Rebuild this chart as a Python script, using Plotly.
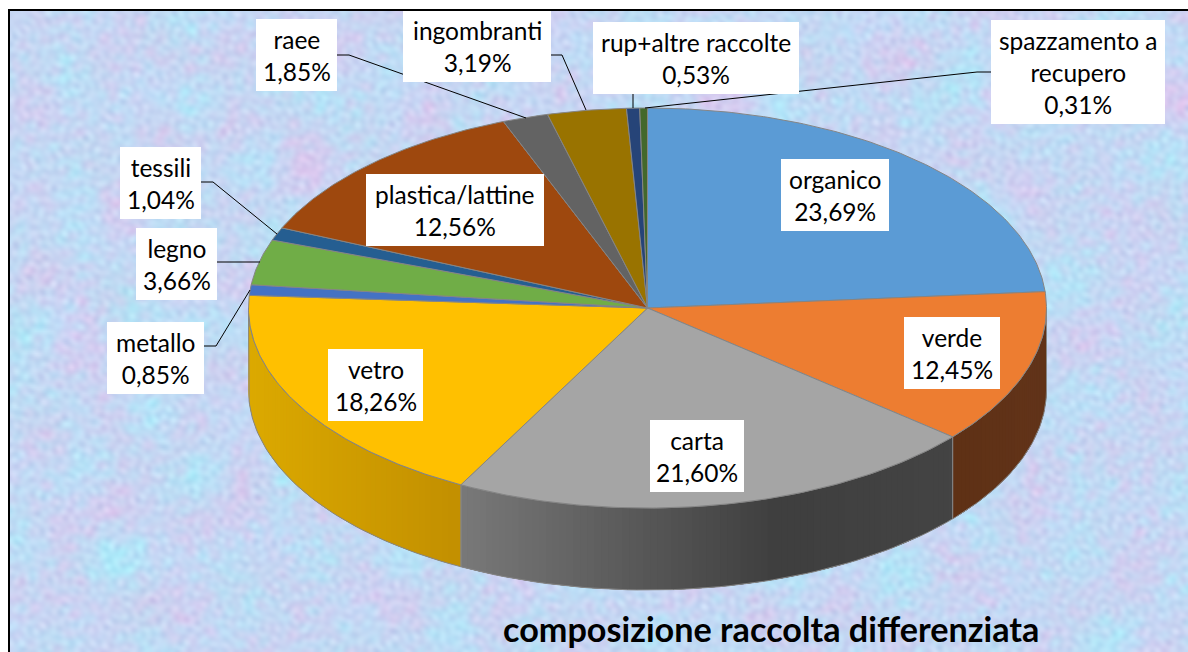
import base64
import math
import struct
import zlib

import numpy as np
import plotly.graph_objects as go

# ---- data ----
categories = ["organico", "verde", "carta", "vetro", "metallo", "legno", "tessili",
              "plastica/lattine", "raee", "ingombranti", "rup+altre raccolte",
              "spazzamento a recupero"]
values = [23.69, 12.45, 21.60, 18.26, 0.85, 3.66, 1.04, 12.56, 1.85, 3.19, 0.53, 0.31]
title_text = "composizione raccolta differenziata"
label_lines = [["organico"], ["verde"], ["carta"], ["vetro"], ["metallo"], ["legno"], ["tessili"],
               ["plastica/lattine"], ["raee"], ["ingombranti"], ["rup+altre raccolte"],
               ["spazzamento a", "recupero"]]

# ---- styles and layout ----
top_colors = ["#5B9BD5", "#ED7D31", "#A5A5A5", "#FFC000", "#4472C4", "#70AD47", "#255E91",
              "#9E480E", "#636363", "#997300", "#264478", "#43682B"]
side_stops = {
    1: [(952, (95, 49, 21)), (1046, (98, 52, 26))],
    2: [(460, (122, 122, 122)), (780, (63, 63, 63)), (952, (68, 68, 68))],
    3: [(248, (220, 170, 0)), (460, (195, 144, 0))],
}
CX, CY, RX, RY, DEPTH = 647.5, 308, 399, 200, 82
EDGE = "#858585"
boxes = [(781, 159, 889, 231), (904, 317, 1000, 389), (650, 420, 744, 492), (328, 349, 423, 421),
         (107, 322, 204, 394), (136, 228, 217, 300), (120, 147, 201, 219), (366, 174, 544, 246),
         (256, 19, 337, 91), (403, 11, 551, 82), (593, 22, 799, 94), (991, 20, 1165, 124)]
leaders = {4: [(204, 346), (216, 346), (250, 290)],
           5: [(217, 262), (260, 262)],
           6: [(201, 182), (213, 182), (277, 234)],
           8: [(337, 55), (349, 55), (526, 118)],
           9: [(551, 55), (562, 55), (586, 110)],
           10: [(633, 94), (633, 108)],
           11: [(991, 72), (977, 72), (645, 108)]}
FONT = "Lato, Carlito, Calibri, sans-serif"


def rim(theta, drop=0.0):
    return CX + RX * np.sin(theta), CY - RY * np.cos(theta) + drop


def colour_at(stops, x):
    xs = [s[0] for s in stops]
    return "rgb(%d,%d,%d)" % tuple(
        float(np.interp(x, xs, [s[1][i] for s in stops])) for i in range(3))


def texture(w, h):
    ys, xs = np.mgrid[0:h, 0:w].astype(float)

    def field(scale, n, phase):
        out = np.zeros_like(xs)
        for k in range(n):
            a = k * 2.39996 + phase
            f = 0.7 + ((k * 0.618034) % 1.0) * 0.8
            out += np.sin(2 * np.pi * (xs * np.cos(a) + ys * np.sin(a)) * f / scale + k * 1.7 + phase)
        return out / math.sqrt(n / 2)

    pink = field(55, 24, 0.3) + 0.6 * field(12, 30, 1.1)
    cyan = field(45, 24, 2.2) + 0.6 * field(11, 30, 3.4)
    fine = field(6, 40, 4.7)
    img = np.stack([
        197 + 4.5 * pink - 3.5 * cyan - 3.5 * fine,
        216 - 3.0 * pink + 3.0 * cyan - 3.5 * fine,
        244 - 0.5 * pink + 1.5 * cyan - 2.0 * fine], axis=-1)
    return np.clip(img, 0, 255).astype(np.uint8)


def png_uri(img):
    h, w, _ = img.shape
    raw = b"".join(b"\x00" + img[r].tobytes() for r in range(h))

    def chunk(tag, data):
        body = tag + data
        return struct.pack(">I", len(data)) + body + struct.pack(">I", zlib.crc32(body))

    png = (b"\x89PNG\r\n\x1a\n" + chunk(b"IHDR", struct.pack(">IIBBBBB", w, h, 8, 2, 0, 0, 0))
           + chunk(b"IDAT", zlib.compress(raw, 9)) + chunk(b"IEND", b""))
    return "data:image/png;base64," + base64.b64encode(png).decode()


fig = go.Figure()
total = sum(values)
cum = np.cumsum([0] + values) / total * 2 * np.pi

# side wall (lower half only): overlapping gradient bands, painted in order so no seams show
for i in side_stops:
    lo, hi = max(cum[i], np.pi / 2), min(cum[i + 1], 3 * np.pi / 2)
    n = max(2, int(math.degrees(hi - lo)))
    edges = np.linspace(lo, hi, n + 1)
    for k in range(n):
        th = np.linspace(edges[k], edges[min(k + 3, n)], 8)
        x0, y0 = rim(th)
        x1, y1 = rim(th[::-1], DEPTH)
        col = colour_at(side_stops[i], float(rim(edges[k])[0]))
        fig.add_trace(go.Scatter(x=np.r_[x0, x1], y=np.r_[y0, y1], mode="lines", fill="toself",
                                 fillcolor=col, line=dict(width=0), hoverinfo="skip"))
    th = np.linspace(lo, hi, 60)
    x0, y0 = rim(th)
    x1, y1 = rim(th[::-1], DEPTH)
    fig.add_trace(go.Scatter(x=np.r_[x0, x1, x0[0]], y=np.r_[y0, y1, y0[0]], mode="lines",
                             line=dict(color=EDGE, width=1), hoverinfo="skip"))

# top face
for i, name in enumerate(categories):
    th = np.linspace(cum[i], cum[i + 1], max(4, int(values[i] * 6)))
    x, y = rim(th)
    fig.add_trace(go.Scatter(x=np.r_[CX, x, CX], y=np.r_[CY, y, CY], mode="lines", fill="toself",
                             fillcolor=top_colors[i], line=dict(color=EDGE, width=1),
                             name=name, text=name, hoverinfo="text"))

# leader lines
for i, pts in leaders.items():
    fig.add_trace(go.Scatter(x=[p[0] for p in pts], y=[p[1] for p in pts], mode="lines",
                             line=dict(color="#000000", width=1), hoverinfo="skip"))

shapes = [dict(type="line", x0=9, x1=9, y0=9, y1=652, line=dict(color="black", width=2)),
          dict(type="line", x0=8, x1=1188, y0=10, y1=10, line=dict(color="black", width=2))]
annotations = []
for i, (x0, y0, x1, y1) in enumerate(boxes):
    shapes.append(dict(type="rect", x0=x0, x1=x1, y0=y0, y1=y1, fillcolor="white",
                       line=dict(width=0), layer="above"))
    text = "<br>".join(label_lines[i] + [f"{values[i]:.2f}".replace(".", ",") + "%"])
    annotations.append(dict(x=(x0 + x1) / 2, y=(y0 + y1) / 2, text=text, showarrow=False,
                            xanchor="center", yanchor="middle", align="center",
                            font=dict(family=FONT, size=24.5, color="black")))
annotations.append(dict(x=770.5, y=628, text=f"<b>{title_text}</b>", showarrow=False,
                        xanchor="center", yanchor="middle",
                        font=dict(family=FONT, size=34.2, color="black")))

fig.update_layout(
    width=1188, height=652, autosize=False, showlegend=False,
    margin=dict(l=0, r=0, t=0, b=0), paper_bgcolor="white", plot_bgcolor="rgba(0,0,0,0)",
    xaxis=dict(range=[0, 1188], visible=False, fixedrange=True),
    yaxis=dict(range=[652, 0], visible=False, fixedrange=True),
    shapes=shapes, annotations=annotations,
    images=[dict(source=png_uri(texture(589, 321)), xref="x", yref="y", x=10, y=11,
                 sizex=1178, sizey=641, sizing="stretch", xanchor="left", yanchor="top",
                 layer="below")],
)
fig.write_html("out.html", config={"displayModeBar": False},
               post_script="document.body.style.margin='0';")
